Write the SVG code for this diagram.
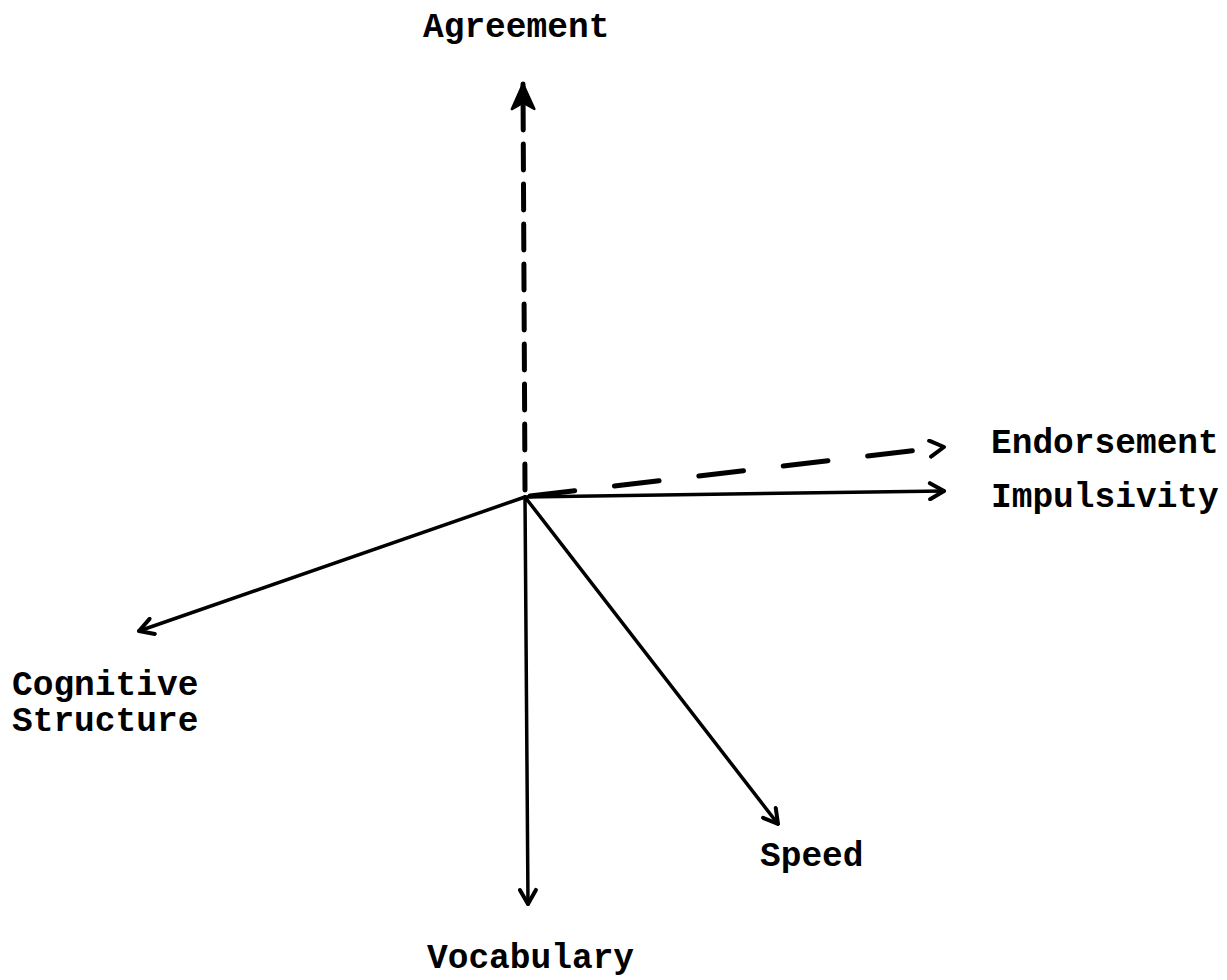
<svg xmlns="http://www.w3.org/2000/svg" width="1227" height="980" viewBox="0 0 1227 980">
<style>
.lbl{font-family:"Liberation Mono","DejaVu Sans Mono",monospace;font-size:34.5px;font-weight:bold;fill:#000}
.solid{stroke:#000;stroke-width:3.5;fill:none;stroke-linecap:round}
.dash{stroke:#000;stroke-width:5;fill:none;stroke-linecap:round}
</style>
<defs>
<marker id="ah" viewBox="0 0 20 20" refX="18" refY="10" markerWidth="20" markerHeight="20" markerUnits="userSpaceOnUse" orient="auto">
<path d="M4,2 L18,10 L4,18" fill="none" stroke="#000" stroke-width="4" stroke-linecap="round" stroke-linejoin="round"/>
</marker>
<marker id="ahf" viewBox="0 0 24 24" refX="22" refY="12" markerWidth="30" markerHeight="30" markerUnits="userSpaceOnUse" orient="auto">
<path d="M2,3 L22,12 L2,21 L7,12 Z" fill="#000" stroke="#000" stroke-width="2" stroke-linejoin="round"/>
</marker>
</defs>
<rect width="1227" height="980" fill="#fff"/>
<g id="connectors">
<line class="dash" x1="525" y1="490" x2="523" y2="84" stroke-dasharray="26 14" marker-end="url(#ahf)"/>
<line class="dash" x1="530" y1="496" x2="944" y2="447" stroke-dasharray="45 40" marker-end="url(#ah)"/>
<line class="solid" x1="525" y1="497" x2="944" y2="491" marker-end="url(#ah)"/>
<line class="solid" x1="525" y1="497" x2="139" y2="631" marker-end="url(#ah)"/>
<line class="solid" x1="525" y1="497" x2="528" y2="904" marker-end="url(#ah)"/>
<line class="solid" x1="525" y1="497" x2="778" y2="824" marker-end="url(#ah)"/>
</g>
<g id="agreement"><text class="lbl" x="423" y="37">Agreement</text></g>
<g id="endorsement"><text class="lbl" x="991" y="453">Endorsement</text></g>
<g id="impulsivity"><text class="lbl" x="991" y="507">Impulsivity</text></g>
<g id="cognitive"><text class="lbl" x="12" y="695">Cognitive</text><text class="lbl" x="12" y="731">Structure</text></g>
<g id="speed"><text class="lbl" x="760" y="866">Speed</text></g>
<g id="vocabulary"><text class="lbl" x="427" y="968">Vocabulary</text></g>
</svg>
